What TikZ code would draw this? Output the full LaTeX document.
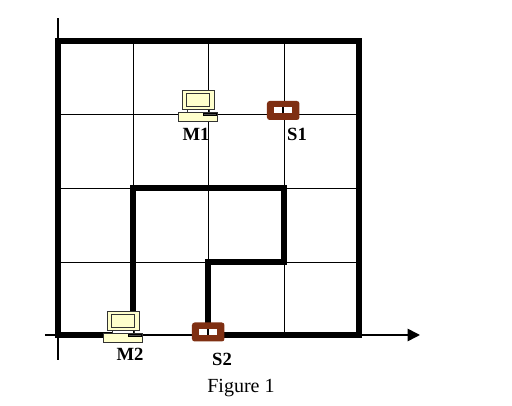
\documentclass[tikz,border=0pt]{standalone}
\usepackage{fontspec}
\setmainfont{Liberation Serif}
\usetikzlibrary{arrows.meta, positioning}
\definecolor{pcyellow}{HTML}{FFFFCC}
\definecolor{switchbrown}{HTML}{7F2F12}
\begin{document}
\begin{tikzpicture}[
    x=0.02cm, y=0.02cm,
    every node/.style={font=\fontsize{10.6}{12}\selectfont\bfseries, inner sep=0pt},
    gridline/.style={black, line width=0.55pt},
    wall/.style={black, line width=3pt, line cap=rect, line join=miter},
    axis/.style={-{Triangle[length=7pt, width=7pt]}, black, line width=0.9pt},
    pcpart/.style={draw=black!80, line width=0.4pt, fill=pcyellow},
    computer/.pic={
      \draw[pcpart] (-15.5,0) rectangle (15.5,-3);
      \draw[pcpart] (-15.5,3) rectangle (16.5,22);
      \draw[pcpart] (-11,6) rectangle (12,19);
      \draw[pcpart] (-19.5,0) rectangle (19.5,-9);
      \draw[fill=black!70, line width=0.3pt] (5.5,-1) rectangle (18.5,-3);
      \draw[black!80, line width=0.4pt] (-10.5,0) -- (-10.5,3) (11.5,0) -- (11.5,3);
    },
    relay/.pic={
      \fill[switchbrown, rounded corners=1.5pt] (-16,-9.5) rectangle (16.5,9.5);
      \fill[white] (-8.5,-3) rectangle (9.5,3);
      \draw[black, line width=0.6pt] (0,-3) -- (0,3);
    }
  ]

    \useasboundingbox (0,0) rectangle (512,406);

    % Grid
    \foreach \gx in {133,208,284} {
      \draw[gridline] (\gx,71) -- (\gx,365);
    }
    \foreach \gy in {144,218,292} {
      \draw[gridline] (58,\gy) -- (359,\gy);
    }

    % Axes
    \draw[axis] (45,71) -- (420,71);
    \draw[black, line width=1.1pt] (58,46) -- (58,388);

    % Walls
    \draw[wall] (110,71) -- (58,71) -- (58,365) -- (359,365) -- (359,71) -- (208,71);
    \draw[wall] (133,80) -- (133,218) -- (284,218) -- (284,144) -- (208,144) -- (208,71);

    % Computers and switches
    \pic at (197.5,294) {computer};
    \pic at (122.5,73) {computer};
    \pic at (283,295.5) {relay};
    \pic at (208,74) {relay};

    % Labels
    \node (labelMa) at (196,272) {M1};
    \node (labelSa) at (297,272) {S1};
    \node (labelMb) at (130,52) {M2};
    \node (labelSb) at (222,47) {S2};
    \node[font=\fontsize{11.4}{13}\selectfont] (caption) at (241,18) {Figure 1};

  \end{tikzpicture}
\end{document}
